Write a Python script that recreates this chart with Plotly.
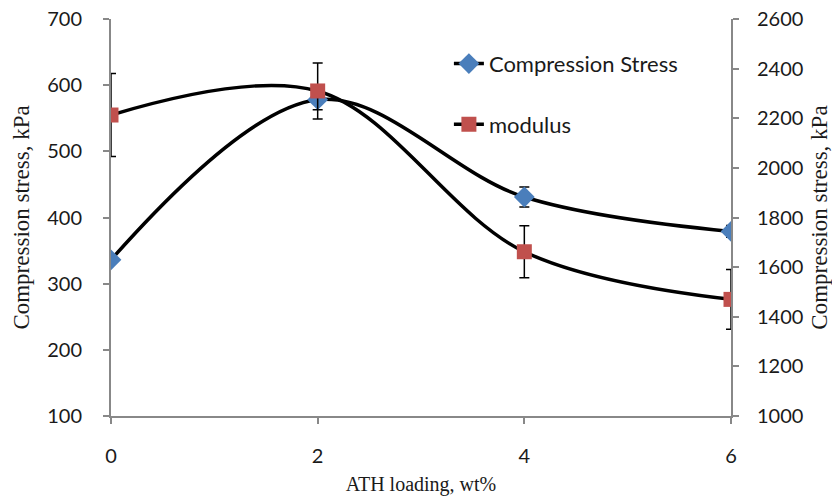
import plotly.graph_objects as go

x_vals = [0, 2, 4, 6]
stress = [336, 578, 431, 379]
stress_err = [4, 15, 15, 9]
modulus = [2213, 2310, 1662, 1470]
modulus_err = [167, 113, 105, 120]

left_ticks = [100, 200, 300, 400, 500, 600, 700]
right_ticks = [1000, 1200, 1400, 1600, 1800, 2000, 2200, 2400, 2600]
x_ticks = [0, 2, 4, 6]

tick_font = dict(family="Lato, Open Sans, sans-serif", size=20, color="#1a1a1a")
ytitle_font = dict(family="Liberation Serif, serif", size=23, color="#1a1a1a")
xtitle_font = dict(family="Liberation Serif, serif", size=20, color="#1a1a1a")
axis_col = "#888888"

fig = go.Figure()
fig.add_trace(go.Scatter(
    x=x_vals, y=stress, name="Compression Stress", mode="lines+markers",
    line=dict(color="black", width=3.5, shape="spline", smoothing=1),
    marker=dict(symbol="diamond", size=16, color="#4A7EBB"),
    error_y=dict(type="data", array=stress_err, color="black", thickness=1.5, width=5),
    legendgroup="a", yaxis="y"))
fig.add_trace(go.Scatter(
    x=x_vals, y=modulus, name="modulus", mode="lines+markers",
    line=dict(color="black", width=3.5, shape="spline", smoothing=1),
    marker=dict(symbol="square", size=15, color="#C0504D"),
    error_y=dict(type="data", array=modulus_err, color="black", thickness=1.5, width=5),
    legendgroup="b", yaxis="y2"))

fig.update_layout(
    width=832, height=496,
    margin=dict(l=111, r=101, t=19, b=80),
    plot_bgcolor="white", paper_bgcolor="white",
    showlegend=True,
    legend=dict(x=0.545, y=0.94, xanchor="left", yanchor="top",
                font=dict(family="Lato, Open Sans, sans-serif", size=22, color="#1a1a1a"),
                tracegroupgap=29, traceorder="grouped", bgcolor="rgba(0,0,0,0)"),
    xaxis=dict(range=[0, 6], tickvals=x_ticks, showgrid=False, zeroline=False,
               showline=True, linecolor=axis_col, linewidth=2, automargin=False,
               ticks="outside", ticklen=6, tickcolor=axis_col, tickwidth=1.5,
               tickfont=tick_font, ticklabelstandoff=15,
               title=dict(text="ATH loading, wt%", font=xtitle_font, standoff=11)),
    yaxis=dict(range=[100, 700], tickvals=left_ticks, showgrid=False, zeroline=False,
               showline=True, linecolor=axis_col, linewidth=2, automargin=False,
               ticks="outside", ticklen=6, tickcolor=axis_col, tickwidth=1.5,
               tickfont=tick_font, ticklabelstandoff=17,
               title=dict(text="Compression stress, kPa", font=ytitle_font, standoff=11)),
    yaxis2=dict(range=[1000, 2600], tickvals=right_ticks, overlaying="y", side="right",
                showgrid=False, zeroline=False, automargin=False,
                showline=True, linecolor=axis_col, linewidth=2,
                ticks="outside", ticklen=6, tickcolor=axis_col, tickwidth=1.5,
                tickfont=tick_font, ticklabelstandoff=14,
                title=dict(text="Compression stress, kPa", font=ytitle_font, standoff=8)),
)

fig.write_html("out.html")
